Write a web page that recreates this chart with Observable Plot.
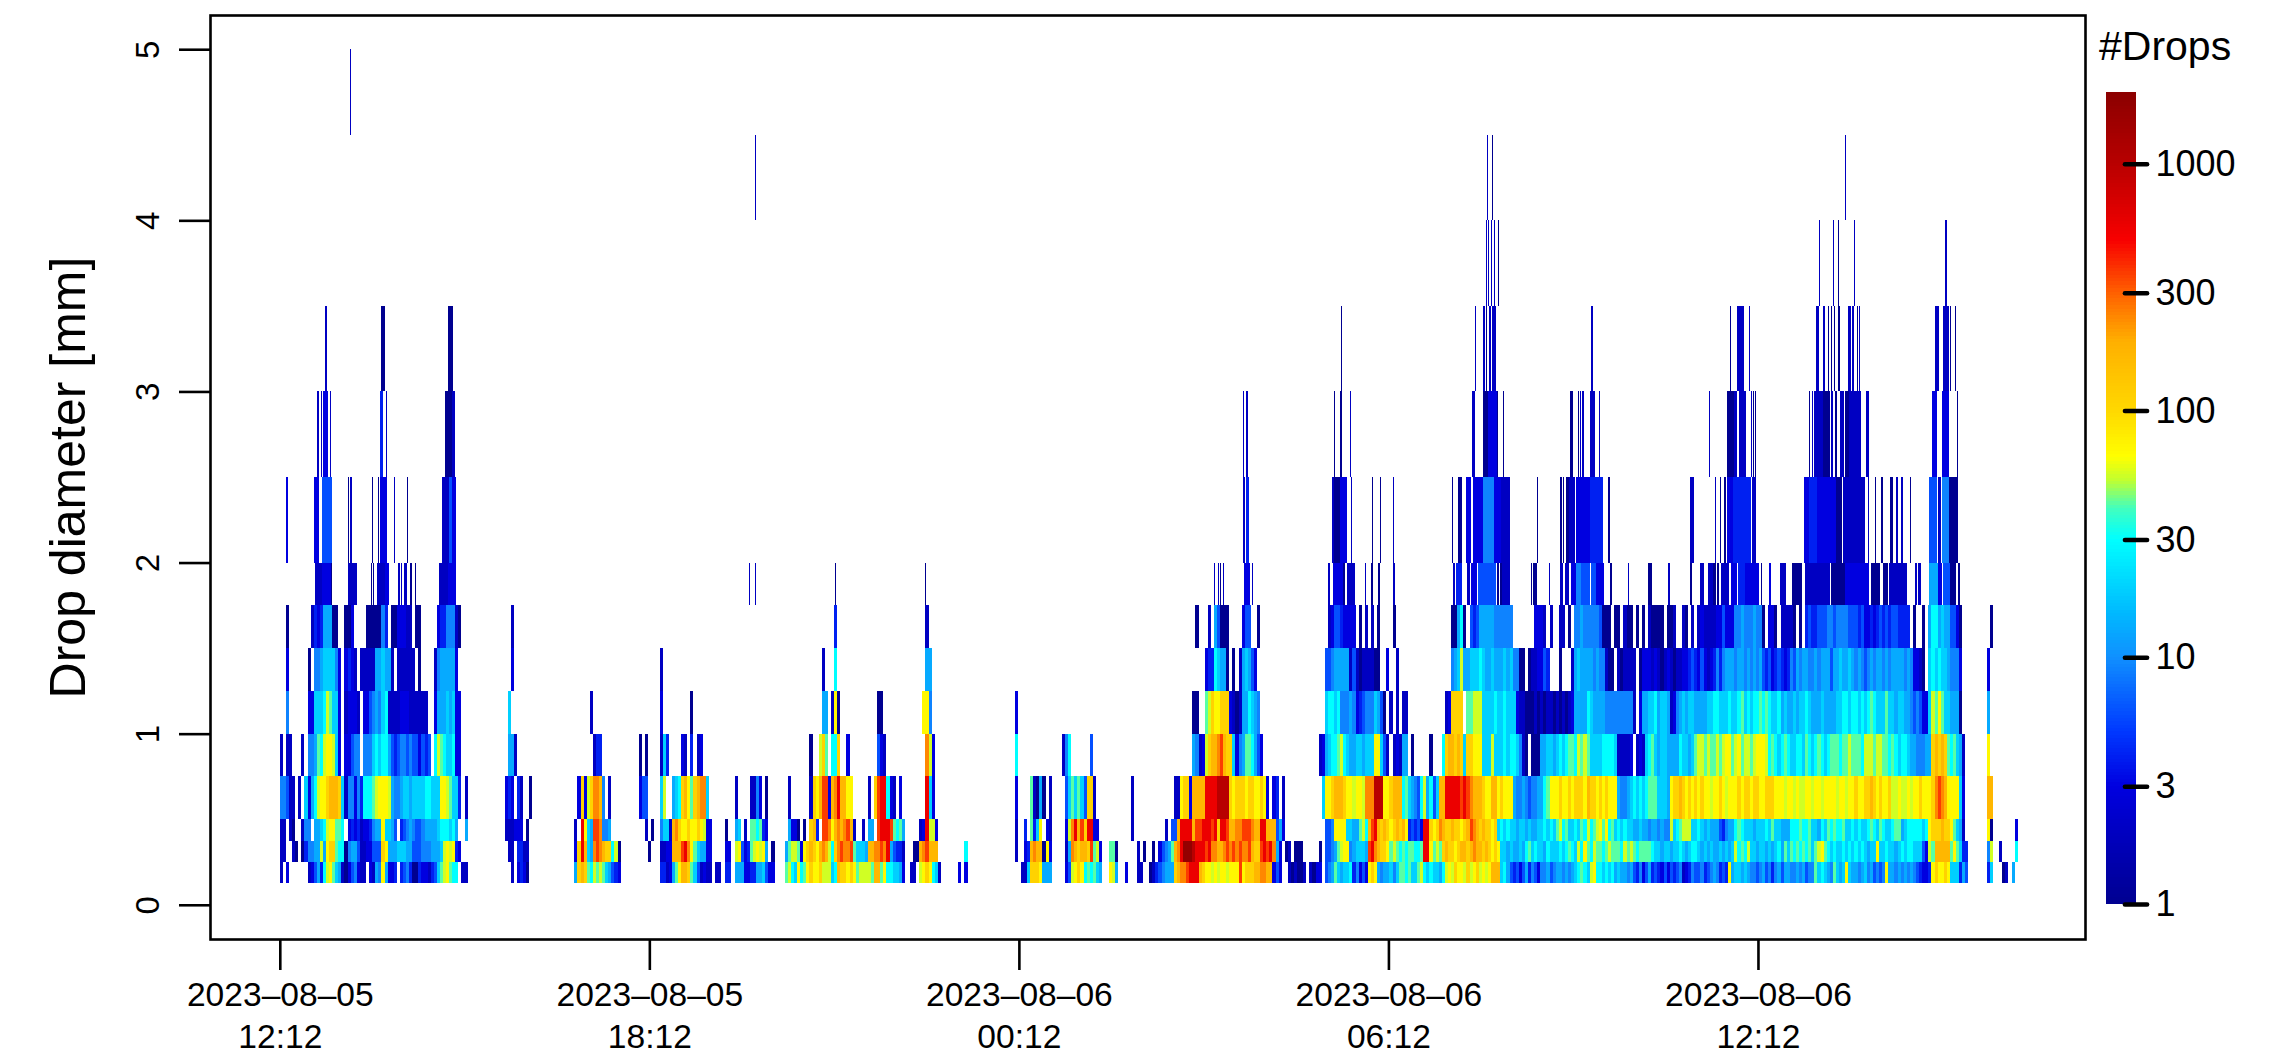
<!DOCTYPE html>
<html><head><meta charset="utf-8">
<script src="https://cdn.jsdelivr.net/npm/d3@7"></script>
<script src="https://cdn.jsdelivr.net/npm/@observablehq/plot@0.6"></script>
<style>
html,body{margin:0;padding:0;background:#fff;}
#wrap{position:relative;width:2279px;height:1050px;font-family:"Liberation Sans",sans-serif;overflow:hidden;}
#wrap>svg,#wrap>div{position:absolute;}
</style></head><body><div id="wrap"></div>
<script>
// Time is minutes after 2023-08-05 12:12. Each cell of a coded row spans 3 minutes.
const tickMinutes = [0, 360, 720, 1080, 1440];
const diameterTicks = [0, 1, 2, 3, 4, 5];
const binEdges = [0.125, 0.25, 0.375, 0.5, 0.75, 1, 1.25, 1.5, 1.75, 2, 2.5, 3, 3.5, 4, 4.5, 5];
const levelCodes = "123456789abcdefghij";
const levelCounts = [1, 2, 3, 4, 6, 9, 13, 19, 30, 42, 55, 70, 110, 170, 240, 360, 560, 1000, 1700];
const dropTicks = [1, 3, 10, 30, 100, 300, 1000];
const colorStops = [1, 3, 5, 10, 15, 30, 40, 52, 65, 100, 190, 300, 490, 1000, 1953];
const colorRange = ["#000090", "#0000e0", "#0038ff", "#1090ff", "#00b8ff", "#00ffff", "#40ffc0", "#c0ff30", "#ffff00", "#ffd800", "#ffb000", "#ff6000", "#f80000", "#b80000", "#8b0000"];

const row0 = [
[0,"2.3......235749bca8721356322.3276c7334.456411433245"+"8abca99.22"],
[219,"..2.3431"],[287,"7deda9baba87543"],[370,"44237aceeda852322.22"],[434,"44.7773344778533"],
[492,"ab98c9acdccdbbb89eddcdcabbbbaeeac998873"],[614,"22.bcdc982"],[661,"3.3"],[716,"..228dddc777"],[762,".35bcdc9a9a87"],
[808,"cb7..3...22..12456777deffghhhedccbcbccbcccgcdddeeffee353..212112"],
[1003,"2133.567a8"+"788946353c"+"dc7677868a"+"a9a88ab989"+"8879bcbdcc"+"bdbcdbcbce"+"ee89754535"+"7465366756"+"77676789a9"+"8bc9989897"+"8776754635"+"7454353"],
[1354,"5456234655"+"645676454c"+"7887876656"+"7564675776"+"6767566a89"+"876a878c87"+"7678675656"+"c776767676"+"54334cdccd"+"c888475..."+"...48...12"+".7"]];
const row1 = [
[0,"22..21.146"+"677b7cdda99"+"1677522335"+"55dc777888"+"7755566677"+"78bcbc43.."],
[219,".22.4422"],[287,"3dhe87fgfedd9b1"],[350,"...1"],[370,"2233eeeghfca87733"],[434,"33.bc534abcbc7.1"],
[492,"7abba3cdedcefeb9dfgffga8887eeffgfh75442"],[614,".11efgeee"],[661,"..9"],[716,"2..34efee1c3"],[762,".27fedeedgab3"],
[808,"aa1......2.1..1.3567aefhjjjihhhghffeefgfgfgffgeddghghf73.12.111"],
[1003,"...1.5567a"+"bcc678887g"+"hfeddcaba9"+"a9aa99ahhc"+"abadeddcde"+"edefeededc"+"dc88787787"+"9a89887988"+"8989a98b9c"+"a9baa9abaa"+"a9baba9aaa"+"a988788"],
[1354,"7889878998"+"7878778787"+"8b9a9b8878"+"8787897a8a"+"9a9a9a8abc"+"a989889898"+"9898788c88"+"9887898998"+"8853baeeee"+"eaca844..."+"...6b..2.."+"..9"]];
const row2 = [
[0,"22.21..266"+".7789bccaa9"+".343423346"+"77c8875.45"+"6765567777"+"8999897..7"],
[219,"222333.1"],[287,"2.hc87ggf667"],[350,"..2.1"],[370,"6882efdccdccdcb33"],[434,"1..78.2.aa9a43"],
[492,".7331.1.de4.ggfcefefge2..2.77.ghhhga9a7"],[614,"...23hbb3"],[716,"2..4.a48c.32"],[762,".3bfhegdhh33"],
[808,".......2..........2.55ehhhheggh"+"hhghdhhgeeffgggfeehheee573"],
[1003,".....556cc"+"cc8877ab9e"+"ghededcded"+"ec45453hhd"+"cdfeddeddc"+"degfededdc"+"d898988788"+"7877889898"+"ab9a8898a9"+"b9abcac9a8"+"9898877877"+"6776766"],
[1354,"b89abbb889"+"8787775467"+"79a9888788"+"898a887779"+"99a99a8879"+"8a9a99a889"+"89889a98a9"+"889aa78999"+"9989cddded"+"dca872...."+"...c1....."+"..3"]];
const row3 = [
[0,"66522.2.83"+"79bccdeeed8"+"266364999a"+"bcccb76678"+"8788889988"+"8ccba884.2"],
[219,"343.42..1"],[287,".3d3bdffe6.2"],[350,"355"],[370,"8b..789decadeff8"],[434,"...2....2263.1"],
[492,".2......2dcegg3efheecc.....2.dghh932.3"],[614,".....h83"],[716,"3....a2171.2"],[762,".58a8a85dd2"],
[808,".......2.............22cdd3eeeehhhhiiiidcdddcddccdc3.34.2"],
[1003,"....8ccdee"+"edccbccbff"+"fiiiccdeee"+"9a87659b79"+"58eehhhhhg"+"hgfeeedcce"+"ecdccc7667"+"6566779acc"+"cdccdcdddc"+"eddcdcdccc"+"7667898989"+"aaa8887"],
[1354,"cddedcdcdc"+"dccbccdcbc"+"ccdcddcddc"+"cdddcccbcc"+"bcbbccbccb"+"ccccbccbcc"+"dccddedcdc"+"cdbbcbbcbc"+"cdcccdfgfe"+"cccc83...."+"...ee"]];
const row4 = [
[0,"2.22...2.6"+"67a9bccb83."+"33566.6668"+"9899754566"+"56553545.9"+"ba988933.."],
[219,".772"],[287,"......244"],[350,"1.1"],[370,"284....32.4.23"],
[492,"........1..bda.99d..3.........532"],[614,".....fb3"],[716,"9"],[762,"269......5"],
[808,"...........................7623bdeefgedd8367aa9753"],
[1003,"...237899a"+"b987788788"+"8cc852.232"+"77.1.....1"+"...9deeded"+"8ddccc888b"+"8889899862"+"1.11177887"+"8989aa9bab"+"a888899998"+"22223.2328"+"9a87887"],
[1354,"77798878ab"+"babaababcc"+"abcabbabcc"+"cb9a989a98"+"8998a989a9"+"89aaa9aaba"+"aa9bbbabba"+"a9a9899877"+"66677deded"+"a9a872...."+"...c"]];
const row5 = [
[0,"..6......3"+"38889ba883."+"23332.3356"+"7689222233"+"3222222..3"+"77787833"],
[219,".8"],[287,".....2"],[370,"3.........1"],
[492,"............77.2c1............11"],[614,"....cc6"],[716,"3"],
[808,"...........................11..abdccddd3212779876"],
[1003,".....89989"+"6667634566"+"68751.2.2."+"22........"+"....23dddd"+".aabbb8888"+"9889888322"+"1112121221"+"2121237777"+"9877776666"+"666662.377"+"8897887"],
[1354,"2367878877"+"7788998889"+"889a89899a"+"9a98897877"+"8788987778"+"7777889989"+"98989a9888"+"a887887765"+"65338baca8"+"87771....."+"...7"]];
const row6 = [
[0,"..3......1"+".667888863."+"3432.22222"+"778772.222"+"222.1....2"+"6777773"],
[219,"..3"],[370,"2"],
[492,"............2...9"],[614,".....77"],
[808,"...............................34498771.1.278753"],
[1003,".....55677"+"7772521222"+"211..3..2."+".........."+"......678b"+"7788898778"+"7778786611"+".1223354.."+".1...27877"+"776766211."+"212222.133"+"3232123"],
[1354,"2122334543"+"5323464677"+"7677676767"+"5453454346"+"5767766767"+"7757787787"+"6765676776"+"7677776763"+"321.898988"+"76663........3"]];
const row7 = [
[0,"..1......."+"243477711.."+"113....111"+"1164.11333"+"22.11....."+"34466621"],
[219,"..2"],
[492,"................4"],[614,".....2"],
[808,"............................1...2.75111....355..1"],
[1003,"......2355"+"43333.1.2."+"2.1....1.."+".........."+"......1179"+"1.54577777"+"666666...."+"...3332.2."+".22.1.6676"+"66665111.1"+"1.211.1.1."+"21111.1"],
[1354,"12..21.2.2"+"3222233533"+"3667666766"+"1.331.2222"+"1.1.454455"+"5665666655"+"5453343454"+"54554444.1"+"..1.799787"+"75531.........1"]];

// Sparse upper bins: "start,width,level"
const row8 = "34,7,2 41,9,3 50,1,1 66,9,2 89,1,1 91,1,1 95,7,2 102,4,3 115,2,2 118,1,2 121,3,2 127,2,1 132,1,1 155,9,2 164,8,3 457,1,2 463,1,2 541,1,1 629,1,1 910,1,2 914,1,2 916,1,1 919,1,2 939,6,3 947,1,2 1021,2,2 1026,10,3 1036,2,1 1040,5,2 1045,2,2 1057,1,2 1063,2,1 1070,2,1 1084,2,2 1143,2,2 1146,6,4 1157,2,2 1160,6,3 1167,18,5 1186,2,1 1189,2,1 1191,7,2 1219,1,1 1221,4,1 1236,1,2 1247,3,2 1252,4,2 1258,5,3 1263,5,6 1268,8,5 1277,5,5 1282,8,3 1296,2,1 1313,1,2 1333,4,1 1352,2,2 1374,2,1 1384,3,2 1391,5,2 1396,2,1 1398,1,1 1400,2,1 1404,8,2 1414,6,3 1421,7,4 1427,14,3 1443,1,1 1451,2,3 1461,6,2 1473,4,1 1477,6,1 1486,24,2 1511,14,1 1525,23,3 1550,9,1 1562,5,1 1568,17,2 1593,2,2 1596,3,2 1607,8,7 1615,4,3 1620,7,5 1627,6,1 1635,2,1".split(" ");
const row9 = "6,2,3 33,5,3 41,10,5 66,1,1 68,2,2 90,1,1 96,1,1 98,6,3 111,1,2 124,1,1 158,7,2 165,3,5 168,4,3 938,2,2 941,3,4 1025,2,2 1027,6,1 1033,7,3 1044,1,2 1064,1,1 1072,1,1 1084,1,2 1142,1,1 1148,4,1 1156,4,3 1162,10,3 1172,11,6 1183,7,3 1190,8,2 1225,1,1 1247,2,1 1250,1,1 1253,3,1 1256,6,2 1263,13,3 1276,13,4 1294,2,1 1374,4,2 1398,1,2 1403,1,1 1407,2,1 1410,6,3 1416,17,4 1434,4,2 1485,6,3 1490,8,4 1498,18,3 1516,6,1 1523,21,2 1547,1,2 1554,1,1 1560,2,1 1569,3,1 1574,2,2 1579,2,2 1588,1,1 1607,7,5 1615,3,2 1619,7,6 1626,9,1".split(" ");
const row10 = "36,2,2 40,1,2 42,5,3 49,1,2 98,3,4 103,1,2 161,7,1 168,3,2 938,1,2 941,2,2 1027,1,1 1033,2,1 1043,1,2 1161,3,2 1172,5,1 1177,9,3 1186,1,1 1192,1,1 1257,3,1 1265,1,1 1267,1,2 1269,2,2 1276,5,2 1285,1,2 1392,1,2 1410,7,1 1417,3,2 1422,6,2 1433,1,2 1435,1,1 1437,1,1 1490,1,1 1493,1,2 1495,8,2 1503,7,1 1511,2,2 1515,2,1 1520,4,2 1525,4,1 1529,11,2 1545,3,2 1610,4,3 1619,7,3 1634,1,1".split(" ");
const row11 = "44,2,2 99,3,1 164,4,1 168,1,1 1034,1,1 1164,1,2 1172,2,2 1175,1,1 1178,2,2 1181,4,2 1277,2,2 1413,1,1 1420,2,2 1422,4,2 1431,1,2 1497,2,2 1503,2,2 1508,1,1 1511,1,1 1514,1,1 1518,2,1 1528,3,2 1532,2,2 1536,1,1 1538,1,2 1612,4,2 1620,6,2 1627,1,1 1632,1,1".split(" ");
const row12 = "1175,1,2 1177,1,2 1180,1,2 1183,1,2 1187,1,1 1499,1,2 1513,1,2 1518,1,1 1534,1,2 1622,2,2".split(" ");
const row13 = "463,1,2 1176,1,2 1181,1,1 1525,1,2".split(" ");
const row14 = "68,1,2".split(" ");

const t0 = Date.UTC(2023, 7, 5, 12, 12);
const toDate = m => new Date(t0 + m * 60000);
const count = c => levelCounts[levelCodes.indexOf(c)];
const cells = [];
[row0, row1, row2, row3, row4, row5, row6, row7].forEach((row, r) => {
  for (const [start, codes] of row) {
    [...codes].forEach((c, i) => {
      if (c !== ".") cells.push({t1: toDate(start + 3 * i), t2: toDate(start + 3 * i + 3), d1: binEdges[r], d2: binEdges[r + 1], n: count(c)});
    });
  }
});
[row8, row9, row10, row11, row12, row13, row14].forEach((row, k) => {
  for (const s of row) {
    const [m, w, c] = s.split(",");
    cells.push({t1: toDate(+m), t2: toDate(+m + +w), d1: binEdges[k + 8], d2: binEdges[k + 9], n: count(c)});
  }
});

const colorScale = {type: "log", domain: colorStops, range: colorRange, interpolate: "rgb"};
const font = '"Liberation Sans", sans-serif';
const wrap = document.getElementById("wrap");

const main = Plot.plot({
  width: 2279, height: 1050,
  marginLeft: 210, marginRight: 194, marginTop: 15, marginBottom: 111,
  style: {fontFamily: font, background: "transparent", color: "black"},
  x: {type: "utc", domain: [toDate(-68), toDate(1758.6)]},
  y: {domain: [-0.2, 5.2]},
  color: colorScale,
  marks: [
    Plot.rect(cells, {x1: "t1", x2: "t2", y1: "d1", y2: "d2", fill: "n", shapeRendering: "crispEdges"}),
    Plot.frame({stroke: "black", strokeWidth: 2.6}),
    Plot.axisY({ticks: diameterTicks, tickSize: 31, tickPadding: 21, tickRotate: -90, fontSize: 33, strokeWidth: 2.6, label: null, tickFormat: d => String(d)}),
    Plot.axisX({ticks: tickMinutes.map(toDate), tickSize: 31, tickPadding: 5, fontSize: 33.6, lineHeight: 1.27, strokeWidth: 2.6, label: null,
      tickFormat: d => d3.utcFormat("%Y\u2013%m\u2013%d")(d) + "\n" + d3.utcFormat("%H:%M")(d)}),
    Plot.text(["Drop diameter [mm]"], {frameAnchor: "left", dx: -142, rotate: -90, textAnchor: "middle", fontSize: 50, fill: "black"})
  ]
});
main.style.left = "0"; main.style.top = "0";
wrap.appendChild(main);

const rampN = 240;
const rampEdge = i => Math.pow(1953, i / rampN);
const ramp = d3.range(rampN).map(i => ({v1: rampEdge(i), v2: rampEdge(i + 1), n: Math.sqrt(rampEdge(i) * rampEdge(i + 1))}));
const bar = Plot.plot({
  width: 179, height: 1050,
  marginLeft: 7, marginRight: 142, marginTop: 92, marginBottom: 146,
  style: {fontFamily: font, background: "transparent", color: "black"},
  x: {domain: [0, 1], axis: null},
  y: {type: "log", domain: [1, 1953], axis: null},
  color: colorScale,
  marks: [
    Plot.rect(ramp, {x1: () => 0, x2: () => 1, y1: "v1", y2: "v2", fill: "n", shapeRendering: "crispEdges"}),
    Plot.ruleY(dropTicks, {x1: () => 0.63, x2: () => 1.37, stroke: "black", strokeWidth: 4.5, strokeLinecap: "round"}),
    Plot.text(dropTicks, {x: () => 1.63, y: d => d, text: d => String(d), textAnchor: "start", fontSize: 36, fill: "black"})
  ]
});
bar.style.left = "2099px"; bar.style.top = "0";
wrap.appendChild(bar);

const title = document.createElement("div");
title.textContent = "#Drops";
title.style.cssText = "left:2099px;top:23px;font-size:41px;line-height:46px;color:black;";
wrap.appendChild(title);
</script></body></html>
